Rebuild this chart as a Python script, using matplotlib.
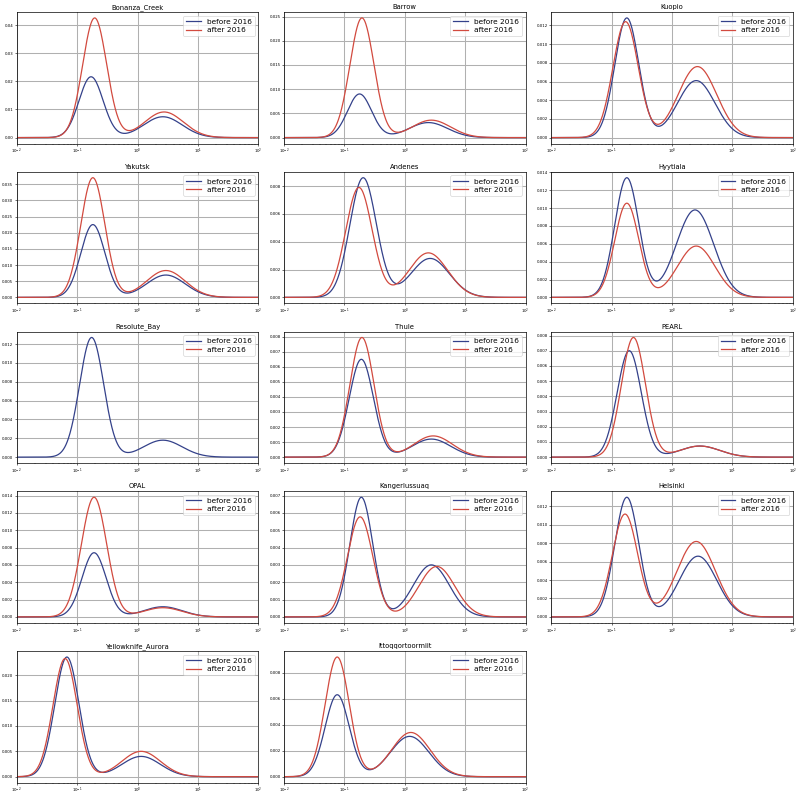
import numpy as np
import matplotlib
matplotlib.use("Agg")
import matplotlib.pyplot as plt

stations = ["Bonanza_Creek", "Barrow", "Kuopio",
            "Yakutsk", "Andenes", "Hyytiala",
            "Resolute_Bay", "Thule", "PEARL",
            "OPAL", "Kangerlussuaq", "Helsinki",
            "Yellowknife_Aurora", "Ittoqqortoormiit"]

# bimodal lognormal modes: peak height, log10 of mode diameter, log10 width
before_amp1 = [0.0216, 0.0090, 0.0128, 0.0225, 0.0086, 0.0134, 0.0127, 0.0065, 0.0070, 0.0074, 0.0069, 0.0130, 0.0236, 0.0063]
before_pos1 = [-0.77, -0.75, -0.75, -0.74, -0.69, -0.75, -0.76, -0.72, -0.71, -0.72, -0.72, -0.75, -1.17, -1.12]
before_wid1 = [0.20, 0.20, 0.20, 0.20, 0.22, 0.20, 0.20, 0.20, 0.20, 0.20, 0.19, 0.20, 0.20, 0.20]
before_amp2 = [0.0074, 0.0031, 0.0061, 0.0069, 0.0028, 0.0098, 0.0018, 0.0012, 0.00073, 0.00117, 0.0030, 0.0066, 0.0040, 0.0031]
before_pos2 = [0.42, 0.39, 0.40, 0.47, 0.42, 0.38, 0.42, 0.44, 0.46, 0.42, 0.44, 0.43, 0.06, 0.08]
before_wid2 = [0.32, 0.32, 0.31, 0.32, 0.32, 0.31, 0.32, 0.32, 0.33, 0.32, 0.30, 0.31, 0.32, 0.32]

after_amp1 = [0.0425, 0.0247, 0.0124, 0.0370, 0.0079, 0.01055, None, 0.00795, 0.00787, 0.0138, 0.00577, 0.01117, 0.0233, 0.0092]
after_pos1 = [-0.71, -0.71, -0.77, -0.74, -0.76, -0.75, None, -0.71, -0.64, -0.72, -0.74, -0.78, -1.20, -1.12]
after_wid1 = [0.20, 0.20, 0.21, 0.20, 0.22, 0.20, None, 0.20, 0.20, 0.21, 0.21, 0.21, 0.20, 0.20]
after_amp2 = [0.0091, 0.0036, 0.0076, 0.0083, 0.0032, 0.00575, None, 0.00141, 0.00073, 0.00106, 0.00291, 0.0082, 0.0050, 0.0034]
after_pos2 = [0.44, 0.44, 0.42, 0.47, 0.39, 0.40, None, 0.47, 0.46, 0.42, 0.53, 0.40, 0.06, 0.10]
after_wid2 = [0.32, 0.32, 0.32, 0.32, 0.32, 0.31, None, 0.32, 0.33, 0.32, 0.30, 0.32, 0.32, 0.32]

C_BEFORE = "#34418a"
C_AFTER = "#d24a3f"

x = np.logspace(-2, 2, 600)
lx = np.log10(x)


def dist(a1, p1, w1, a2, p2, w2):
    if a1 is None:
        return np.array([]), np.array([])
    y = a1 * np.exp(-(lx - p1) ** 2 / (2 * w1 ** 2)) + a2 * np.exp(-(lx - p2) ** 2 / (2 * w2 ** 2))
    return x, y


fig, axes = plt.subplots(5, 3, figsize=(8.0, 7.97), dpi=100)
fig.subplots_adjust(left=0.021, right=0.991, top=0.985, bottom=0.018, wspace=0.107, hspace=0.214)

for i, ax in enumerate(axes.flat):
    if i >= len(stations):
        ax.axis("off")
        continue
    bx, by = dist(before_amp1[i], before_pos1[i], before_wid1[i], before_amp2[i], before_pos2[i], before_wid2[i])
    axx, ay = dist(after_amp1[i], after_pos1[i], after_wid1[i], after_amp2[i], after_pos2[i], after_wid2[i])
    ax.plot(bx, by, color=C_BEFORE, lw=0.9, label="before 2016")
    ax.plot(axx, ay, color=C_AFTER, lw=0.9, label="after 2016")
    ax.set_xscale("log")
    ax.set_xlim(1e-2, 1e2)
    ax.set_title(stations[i], fontsize=4.9, pad=2)
    ax.grid(True, which="major", color="#b0b0b0", lw=0.75)
    ax.tick_params(axis="both", which="major", labelsize=2.8, length=1.5, width=0.4, pad=1)
    ax.tick_params(axis="both", which="minor", length=0.9, width=0.3)
    for sp in ax.spines.values():
        sp.set_linewidth(0.5)
    ax.legend(loc="upper right", fontsize=5.3, handlelength=2.0, borderpad=0.4,
              labelspacing=0.3, framealpha=0.8, edgecolor="#cccccc").get_frame().set_linewidth(0.5)

fig.savefig("out.png", dpi=100)
